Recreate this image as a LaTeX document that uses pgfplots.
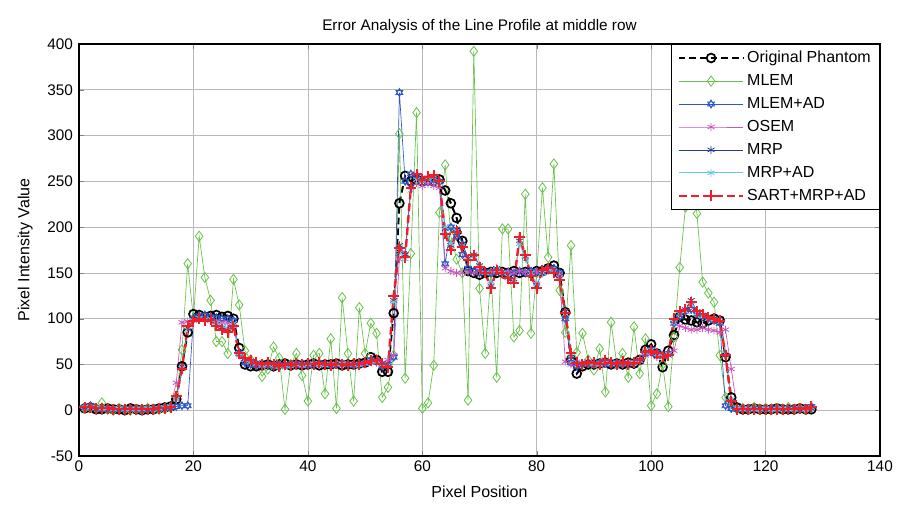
\documentclass[border=0pt]{standalone}
\usepackage{pgfplots}
\usepackage{pgfplotstable}
\pgfplotsset{compat=1.18}
\usepackage{fontspec}
\setmainfont{Liberation Sans}

\definecolor{cPh}{RGB}{0,0,0}
\definecolor{cMl}{RGB}{102,194,72}
\definecolor{cMlad}{RGB}{45,85,200}
\definecolor{cOs}{RGB}{204,85,190}
\definecolor{cMrp}{RGB}{40,60,150}
\definecolor{cMrpad}{RGB}{100,200,230}
\definecolor{cSart}{RGB}{240,30,40}

% six-pointed star (two triangles), like the MATLAB hexagram
\pgfdeclareplotmark{hexagram}{%
  \pgfpathmoveto{\pgfqpointpolar{90}{\pgfplotmarksize}}%
  \pgfpathlineto{\pgfqpointpolar{210}{\pgfplotmarksize}}%
  \pgfpathlineto{\pgfqpointpolar{330}{\pgfplotmarksize}}%
  \pgfpathclose
  \pgfpathmoveto{\pgfqpointpolar{270}{\pgfplotmarksize}}%
  \pgfpathlineto{\pgfqpointpolar{30}{\pgfplotmarksize}}%
  \pgfpathlineto{\pgfqpointpolar{150}{\pgfplotmarksize}}%
  \pgfpathclose
  \pgfusepathqstroke}

% x ph ml mlad os mrp mrpad sart
\pgfplotstableread{
x ph ml mlad os mrp mrpad sart
1 2 2 3 2 3 4 3
2 3 3 5 3 4 3 3
3 1 2 2 2 2 3 2
4 1 8 1 1 2 2 2
5 2 1 2 2 1 2 2
6 1 0 1 1 1 1 1
7 1 2 1 2 1 2 1
8 0 1 1 1 1 1 1
9 2 0 2 1 1 1 1
10 1 1 1 2 1 1 1
11 0 0 0 1 1 1 1
12 1 2 1 1 1 2 1
13 1 1 2 2 2 2 1
14 2 1 2 2 2 2 2
15 3 2 3 3 3 3 2
16 4 3 3 4 4 4 3
17 12 15 4 30 14 12 15
18 48 66 5 96 48 46 45
19 85 160 5 97 90 88 92
20 105 100 100 98 100 98 97
21 104 190 103 100 102 101 100
22 102 145 104 99 100 99 98
23 103 120 102 98 99 100 99
24 104 75 101 97 94 95 92
25 102 75 100 96 90 92 88
26 103 62 100 95 88 90 85
27 100 143 98 92 94 95 92
28 68 115 62 60 64 62 62
29 50 65 52 55 56 55 57
30 48 55 50 52 54 53 55
31 48 50 49 50 52 51 52
32 49 37 50 48 50 49 50
33 50 45 49 50 52 50 52
34 48 69 48 51 50 49 50
35 50 57 50 49 48 47 48
36 51 1 49 48 50 49 50
37 49 50 50 50 49 48 49
38 50 62 51 49 51 50 51
39 49 38 50 48 50 49 50
40 50 10 49 50 51 50 51
41 51 60 50 51 50 51 50
42 49 62 51 49 52 50 52
43 50 18 50 50 50 49 50
44 50 78 49 51 49 50 49
45 51 2 50 50 51 50 51
46 49 123 51 49 50 51 50
47 50 62 50 50 49 50 49
48 50 10 49 51 51 50 51
49 51 112 50 50 50 49 50
50 52 62 51 52 52 51 52
51 58 95 55 53 54 54 54
52 55 84 53 52 55 54 55
53 42 14 48 52 51 50 51
54 42 25 50 55 48 49 47
55 106 60 58 60 120 118 125
56 226 302 347 165 180 172 177
57 256 35 250 170 170 165 167
58 250 171 258 245 245 240 243
59 252 325 255 248 256 252 258
60 250 2 252 245 252 250 252
61 251 8 250 247 254 252 255
62 250 49 252 245 255 254 257
63 252 216 250 243 250 248 250
64 240 268 160 155 198 200 193
65 226 190 200 152 180 182 175
66 210 165 190 150 198 196 195
67 185 150 170 150 182 180 178
68 152 11 155 151 166 165 164
69 150 392 152 150 170 168 169
70 148 133 150 152 158 157 156
71 150 62 151 150 152 150 150
72 151 150 150 151 136 138 133
73 150 36 152 152 155 153 153
74 151 198 150 150 148 150 150
75 150 198 151 151 145 146 144
76 152 80 150 150 140 142 139
77 150 87 152 152 185 182 189
78 151 236 150 151 168 165 169
79 150 84 152 150 148 150 147
80 152 150 151 151 136 138 133
81 152 243 150 152 152 150 153
82 155 167 153 153 156 154 155
83 158 269 155 152 152 152 150
84 150 131 150 148 144 145 142
85 107 85 100 53 108 105 106
86 55 180 52 50 58 60 62
87 40 63 48 51 52 53 52
88 48 84 50 50 50 51 50
89 50 55 51 51 53 52 53
90 50 44 50 50 52 51 52
91 51 67 52 49 50 50 50
92 52 20 51 51 55 54 55
93 50 96 50 52 52 51 52
94 51 50 52 50 50 51 50
95 50 62 50 51 53 52 53
96 52 36 51 52 50 51 50
97 51 91 52 53 52 52 52
98 55 40 54 56 55 54 55
99 66 78 62 60 64 63 64
100 72 5 66 62 65 66 65
101 62 18 63 58 62 61 62
102 47 50 60 60 58 59 58
103 65 4 62 62 60 61 60
104 82 80 95 65 98 96 100
105 102 156 102 92 106 105 108
106 99 222 108 90 110 108 110
107 98 260 110 88 120 115 118
108 96 215 105 88 108 106 108
109 95 140 102 90 104 103 105
110 98 128 100 88 101 100 102
111 100 118 98 87 100 99 100
112 98 60 95 85 97 96 98
113 58 14 5 88 60 62 60
114 14 3 2 45 10 12 10
115 3 1 1 3 2 2 1
116 1 2 1 2 1 1 1
117 1 1 2 1 1 2 1
118 2 3 1 2 2 1 1
119 1 1 2 1 1 1 1
120 1 2 1 2 1 2 1
121 1 1 2 1 2 1 1
122 2 2 1 2 1 1 1
123 1 1 2 1 1 2 1
124 1 3 1 2 2 1 1
125 1 1 2 1 1 1 1
126 2 2 1 2 1 2 2
127 1 1 2 1 1 1 1
128 1 3 4 2 2 3 4
}\prof

\begin{document}
\begin{tikzpicture}
\begin{axis}[
    width=600.75pt, height=309pt, scale only axis,
    xmin=0, xmax=140, ymin=-50, ymax=400,
    xtick={0,20,...,140},
    ytick={-50,0,...,400},
    grid=major,
    major grid style={gray!55, line width=0.5pt},
    tick align=inside,
    major tick length=4pt,
    axis line style={line width=0.8pt},
    /pgf/number format/assume math mode=true,
    tick label style={font=\fontsize{11.5}{13}\selectfont},
    yticklabel style={xshift=-1pt},
    title={Error Analysis of the Line Profile at middle row},
    title style={font=\fontsize{11.5}{13}\selectfont, at={(axis description cs:0.5,1.022)}, anchor=center},
    xlabel={Pixel Position},
    ylabel={Pixel Intensity Value},
    xlabel style={font=\fontsize{12}{14}\selectfont, at={(axis description cs:0.5,-0.087)}, anchor=center},
    ylabel style={font=\fontsize{12}{14}\selectfont, at={(axis description cs:-0.067,0.5)}, anchor=center},
    legend style={at={(1,1)}, anchor=north east, draw=black, line width=0.8pt,
        fill=white, font=\fontsize{12}{14}\selectfont, row sep=3.4pt,
        inner xsep=4.5pt, inner ysep=3pt},
    legend cell align=left,
    legend image code/.code={%
        \draw[mark repeat=2,mark phase=2] plot coordinates {(0cm,0cm) (0.85cm,0cm) (1.7cm,0cm)};},
]
\addplot[cPh, line width=1.5pt, dash pattern=on 5pt off 3pt, mark=o, mark size=3.3pt,
    mark options={solid, line width=1.3pt}] table[x=x, y=ph] {\prof};
\addlegendentry{Original Phantom}
\addplot[cMl, line width=0.5pt, mark=diamond, mark size=3.8pt,
    mark options={solid, line width=0.6pt}] table[x=x, y=ml] {\prof};
\addlegendentry{MLEM}
\addplot[cMlad, line width=0.5pt, mark=hexagram, mark size=3pt,
    mark options={solid, line width=0.6pt}] table[x=x, y=mlad] {\prof};
\addlegendentry{MLEM+AD}
\addplot[cOs, line width=0.5pt, mark=asterisk, mark size=3pt,
    mark options={solid, line width=0.6pt}] table[x=x, y=os] {\prof};
\addlegendentry{OSEM}
\addplot[cMrp, line width=0.5pt, mark=asterisk, mark size=3pt,
    mark options={solid, line width=0.6pt}] table[x=x, y=mrp] {\prof};
\addlegendentry{MRP}
\addplot[cMrpad, line width=0.5pt, mark=asterisk, mark size=3pt,
    mark options={solid, line width=0.6pt}] table[x=x, y=mrpad] {\prof};
\addlegendentry{MRP+AD}
\addplot[cSart, line width=1.8pt, dash pattern=on 6pt off 3pt, mark=+, mark size=4pt,
    mark options={solid, line width=1.5pt}] table[x=x, y=sart] {\prof};
\addlegendentry{SART+MRP+AD}
\end{axis}
\pgfresetboundingbox
\useasboundingbox ([xshift=-59.25pt,yshift=-36pt]current axis.south west)
    rectangle ([xshift=13.5pt,yshift=33pt]current axis.north east);
\end{tikzpicture}
\end{document}
